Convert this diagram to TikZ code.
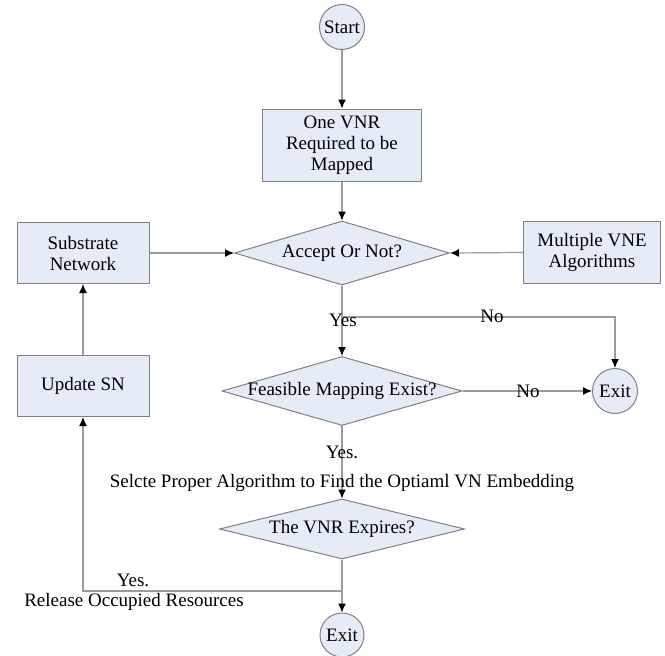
\documentclass[tikz,border=0pt]{standalone}
\usepackage{fontspec}
\setmainfont{Liberation Serif}
\usetikzlibrary{shapes.geometric,arrows.meta}
\definecolor{paleblue}{RGB}{230, 236, 247}
\definecolor{edgegray}{RGB}{128, 128, 128}
\definecolor{linegray}{RGB}{155, 155, 155}
\tikzstyle{terminal}=[circle,draw=edgegray,line width=1pt,fill=paleblue,minimum size=45pt,inner sep=0pt]
\tikzstyle{process}=[rectangle,draw=edgegray,line width=1pt,fill=paleblue,align=center,inner sep=0pt]
\tikzstyle{decision}=[diamond,draw=edgegray,line width=1pt,fill=paleblue,inner sep=0pt]
\tikzstyle{flow}=[->,draw=linegray,line width=1.2pt]

\begin{document}
\begin{tikzpicture}[>={Latex[black,length=9pt,width=8pt]},x=1pt,y=-1pt,font=\fontsize{19}{21}\selectfont]

      \useasboundingbox (0,0) rectangle (665,656);

      \node (start) at (342,27) [terminal] {Start};
      \node (vnr) at (342,145) [process,minimum width=159pt,minimum height=72pt] {One VNR\\Required to be\\Mapped};
      \node (accept) at (342,253) [decision,minimum width=215pt,minimum height=64pt,label=center:{Accept Or Not?}] {};
      \node (sub) at (83,253) [process,minimum width=132pt,minimum height=61pt] {Substrate\\Network};
      \node (multi) at (592,252) [process,minimum width=137pt,minimum height=62pt] {Multiple VNE\\Algorithms};
      \node (feas) at (342,391) [decision,minimum width=240pt,minimum height=69pt,label=center:{Feasible Mapping Exist?}] {};
      \node (exitA) at (615,391) [terminal] {Exit};
      \node (update) at (83,386) [process,minimum width=132pt,minimum height=61pt] {Update SN};
      \node (expire) at (342,529) [decision,minimum width=245pt,minimum height=60pt,label=center:{The VNR Expires?}] {};
      \node (exitB) at (342,635) [terminal,minimum size=44pt] {Exit};

      \coordinate (split) at (342,317);
      \coordinate (back) at (342,591);

      \draw[flow] (start) -- (vnr);
      \draw[flow] (vnr) -- (accept);
      \draw[flow] (sub) -- (accept.west);
      \draw[flow] (multi) -- (accept.east);
      \draw[flow] (accept) -- (feas);
      \draw[flow] (split) -| (exitA);
      \draw[flow] (feas.east) -- (exitA);
      \draw[flow] (feas) -- (expire);
      \draw[flow] (expire) -- (exitB);
      \draw[flow] (back) -| (update);
      \draw[flow] (update) -- (sub);

      % labels on the branches
      \node (yesA) at (343,320) {Yes};
      \node (noA) at (492,316) {No};
      \node (noB) at (528,391) {No};
      \node (yesB) at (342,452) {Yes.};
      \node (select) at (342,483) {Selcte Proper Algorithm to Find the Optiaml VN Embedding};
      \node (yesC) at (133,580) {Yes.};
      \node (release) at (134,602) {Release Occupied Resources};

\end{tikzpicture}
\end{document}
